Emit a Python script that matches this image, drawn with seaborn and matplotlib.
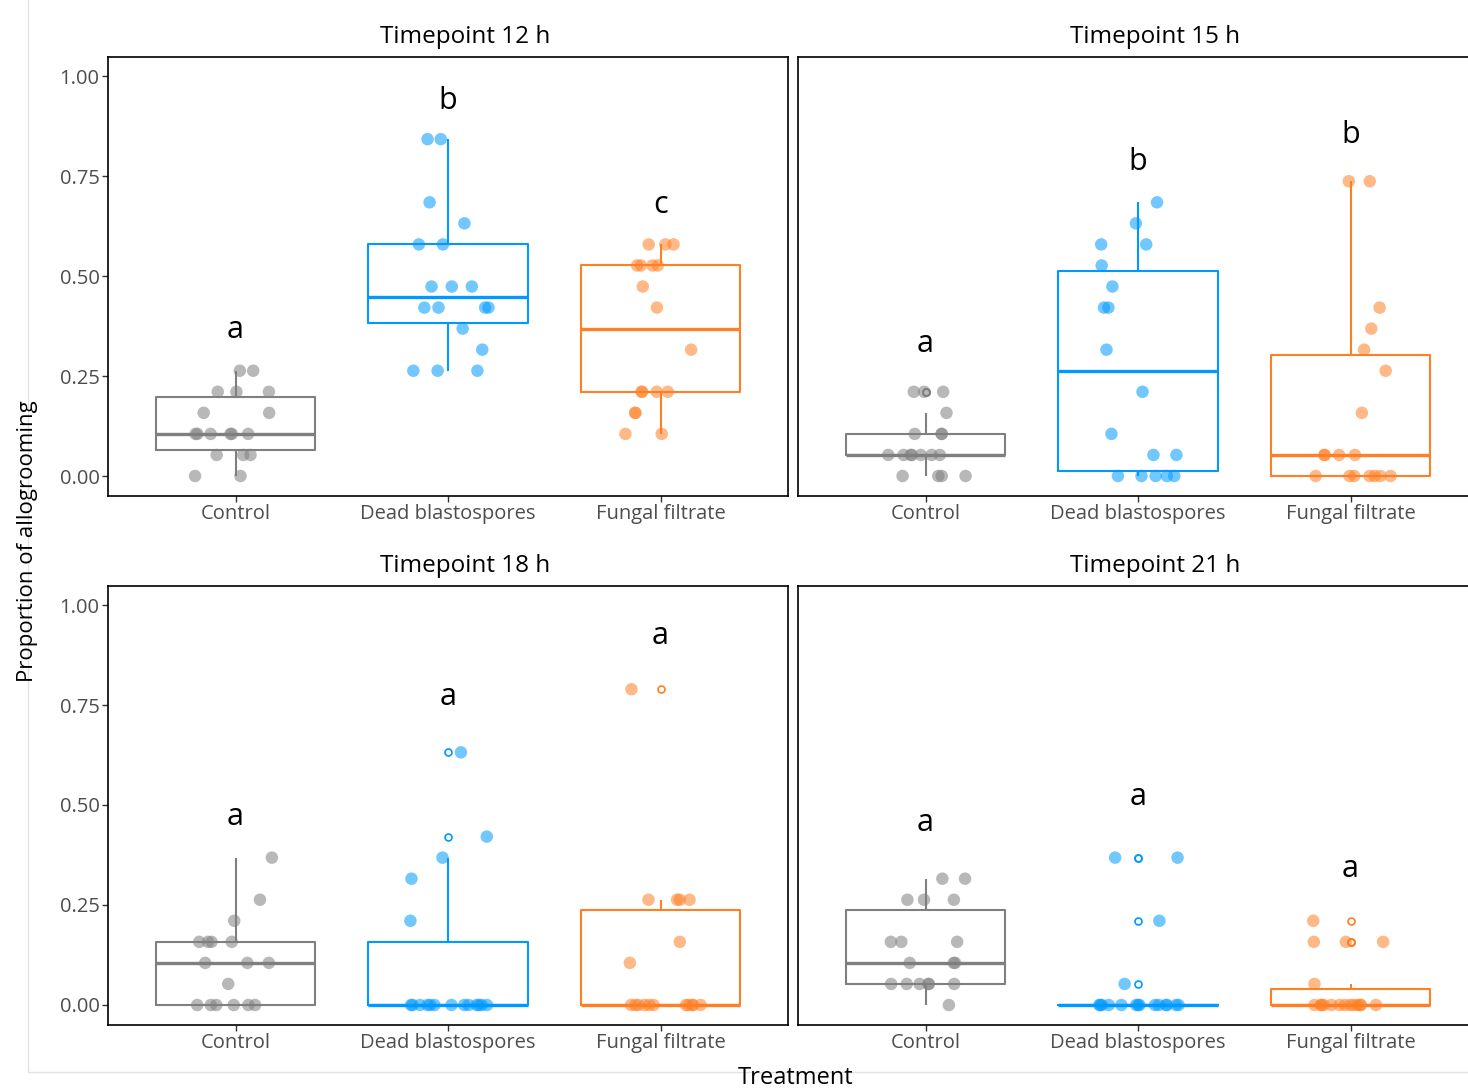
import numpy as np
import pandas as pd
import matplotlib
matplotlib.use("Agg")
import matplotlib.pyplot as plt
import seaborn as sns
from matplotlib.lines import Line2D

# allogrooming scans per ant, out of 19 scans
N_SCANS = 19
treatments = ["Control", "Dead blastospores", "Fungal filtrate"]
timepoints = ["Timepoint 12 h", "Timepoint 15 h", "Timepoint 18 h", "Timepoint 21 h"]

t12_control = [5, 5, 4, 4, 4, 3, 3, 2, 2, 2, 2, 2, 2, 1, 1, 1, 0, 0]
t12_dead = [16, 16, 13, 12, 11, 11, 9, 9, 9, 8, 8, 8, 8, 7, 6, 5, 5, 5]
t12_filtrate = [11, 11, 11, 10, 10, 10, 10, 9, 8, 6, 4, 4, 4, 4, 3, 3, 2, 2]

t15_control = [4, 4, 4, 3, 2, 2, 2, 1, 1, 1, 1, 1, 1, 1, 0, 0, 0, 0]
t15_dead = [13, 12, 11, 11, 10, 9, 8, 8, 6, 4, 2, 1, 1, 0, 0, 0, 0, 0]
t15_filtrate = [14, 14, 8, 7, 6, 5, 3, 1, 1, 1, 1, 0, 0, 0, 0, 0, 0, 0]

t18_control = [7, 5, 4, 3, 3, 3, 3, 2, 2, 2, 1, 0, 0, 0, 0, 0, 0]
t18_dead = [12, 8, 7, 6, 4, 0, 0, 0, 0, 0, 0, 0, 0, 0, 0, 0, 0, 0]
t18_filtrate = [15, 5, 5, 5, 5, 3, 2, 0, 0, 0, 0, 0, 0, 0, 0, 0, 0, 0]

t21_control = [6, 6, 5, 5, 5, 3, 3, 3, 2, 2, 2, 1, 1, 1, 1, 1, 1, 0]
t21_dead = [7, 7, 4, 1, 0, 0, 0, 0, 0, 0, 0, 0, 0, 0, 0, 0, 0, 0]
t21_filtrate = [4, 3, 3, 3, 1, 0, 0, 0, 0, 0, 0, 0, 0, 0, 0, 0, 0, 0]

# compact letter display per timepoint
letters = [["a", "b", "c"], ["a", "b", "b"], ["a", "a", "a"], ["a", "a", "a"]]
letter_y = [[0.365, 0.9375, 0.6775], [0.33, 0.785, 0.8525],
            [0.47, 0.77, 0.9225], [0.455, 0.52, 0.34]]

groups = [
    [t12_control, t12_dead, t12_filtrate],
    [t15_control, t15_dead, t15_filtrate],
    [t18_control, t18_dead, t18_filtrate],
    [t21_control, t21_dead, t21_filtrate],
]
rows = []
for tp, grp in zip(timepoints, groups):
    for trt, counts in zip(treatments, grp):
        for c in counts:
            rows.append({"timepoint": tp, "treatment": trt, "prop": c / N_SCANS})
df = pd.DataFrame(rows)

colors = ["#7f7f7f", "#0099ff", "#ff7f24"]

sns.set_style("ticks")
plt.rcParams["font.family"] = ["Open Sans", "DejaVu Sans"]
np.random.seed(3)

W, H = 1468, 1090
fig = plt.figure(figsize=(W / 100, H / 100), dpi=100)
boxes = [(108, 57), (798, 57), (108, 586), (798, 586)]
pw, ph = 680, 439

for i, tp in enumerate(timepoints):
    x0, y0 = boxes[i]
    ax = fig.add_axes([x0 / W, 1 - (y0 + ph) / H, pw / W, ph / H])
    sub = df[df.timepoint == tp]
    sns.boxplot(data=sub, x="treatment", y="prop", hue="treatment",
                order=treatments, hue_order=treatments, palette=colors,
                fill=False, width=0.75, linewidth=1.5, showcaps=False,
                medianprops={"linewidth": 2.4},
                flierprops={"marker": "o", "markersize": 5,
                            "markerfacecolor": "none", "markeredgewidth": 1.2},
                legend=False, ax=ax)
    sns.stripplot(data=sub, x="treatment", y="prop", hue="treatment",
                  order=treatments, hue_order=treatments, palette=colors,
                  jitter=0.2, size=9, alpha=0.55, linewidth=0,
                  legend=False, ax=ax, zorder=3)
    for j, (lab, ly) in enumerate(zip(letters[i], letter_y[i])):
        ax.text(j, ly, lab, ha="center", va="center", fontsize=22, color="black")
    ax.set_xlim(-0.6, 2.6)
    ax.set_ylim(-0.05, 1.0475)
    ax.set_yticks([0, 0.25, 0.5, 0.75, 1.0])
    ax.set_yticklabels(["0.00", "0.25", "0.50", "0.75", "1.00"])
    ax.set_xlabel("")
    ax.set_ylabel("")
    for s in ax.spines.values():
        s.set_visible(True)
        s.set_color("black")
        s.set_linewidth(1.2)
    ax.tick_params(axis="both", length=4, width=1, color="#333333",
                   labelsize=14.5, labelcolor="#4d4d4d", pad=2)
    if i % 2 == 1:
        ax.tick_params(axis="y", left=False, labelleft=False)
    ax.text(0.525, 1.0456, tp, transform=ax.transAxes, ha="center", va="center",
            fontsize=17.5, color="black")

fig.text(28 / W, 1 - 541 / H, "Proportion of allogrooming", rotation=90,
         ha="center", va="center", fontsize=16, color="black")
fig.text(796 / W, 1 - 1078 / H, "Treatment", ha="center", va="center",
         fontsize=17, color="black")

# faint frame of the original figure
fig.add_artist(Line2D([28 / W, 28 / W], [1 - 1072 / H, 1], transform=fig.transFigure,
                      color="#e3e3e3", lw=1))
fig.add_artist(Line2D([28 / W, 1], [1 - 1072 / H, 1 - 1072 / H], transform=fig.transFigure,
                      color="#e3e3e3", lw=1))

fig.savefig("out.png", dpi=100)
